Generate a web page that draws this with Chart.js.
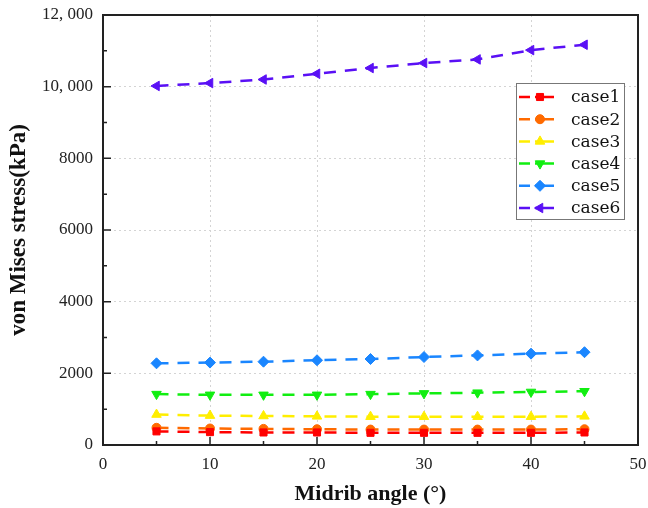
<!DOCTYPE html>
<html>
<head>
<meta charset="utf-8">
<script src="https://cdn.jsdelivr.net/npm/chart.js@4"></script>
<style>
  html, body { margin: 0; padding: 0; background: #fff; }
  #wrap { width: 648px; height: 508px; }
</style>
</head>
<body>
<div id="wrap"><canvas id="myChart" width="648" height="508"></canvas></div>
<script>
// data
const angles = [5, 10, 15, 20, 25, 30, 35, 40, 45];
const case1 = [380, 360, 350, 350, 340, 340, 340, 340, 350];
const case2 = [480, 460, 450, 440, 430, 430, 430, 430, 440];
const case3 = [850, 820, 810, 800, 790, 790, 790, 790, 800];
const case4 = [1420, 1400, 1400, 1400, 1420, 1440, 1460, 1480, 1500];
const case5 = [2280, 2300, 2325, 2365, 2400, 2455, 2500, 2550, 2590];
const case6 = [10020, 10100, 10200, 10360, 10520, 10660, 10760, 11020, 11170];
const seriesNames = ['case1', 'case2', 'case3', 'case4', 'case5', 'case6'];
const yTicks = [0, 2000, 4000, 6000, 8000, 10000, 12000];
const xTicks = [0, 10, 20, 30, 40, 50];

const colors = ['#ff0000', '#ff6a00', '#ffee00', '#11ee11', '#1a86ff', '#5a10f5'];
const styles = ['rect', 'circle', 'triangle', 'triangle', 'rectRot', 'triangle'];
const rotations = [0, 0, 0, 180, 0, 270];
const radii = [5, 4.5, 5.5, 5.5, 5.5, 5.5];
const allSeries = [case1, case2, case3, case4, case5, case6];
const serif = "'Liberation Serif', 'DejaVu Serif', serif";
const dash = [12, 9];

function fmtY(v) {
    if (v >= 10000) {
        const s = String(v);
        return s.slice(0, s.length - 3) + ', ' + s.slice(-3);
    }
    return String(v);
}

const datasets = allSeries.map((vals, i) => ({
    label: seriesNames[i],
    data: angles.map((a, j) => ({ x: a, y: vals[j] })),
    borderColor: colors[i],
    backgroundColor: colors[i],
    borderWidth: 2.5,
    borderDash: dash,
    pointStyle: styles[i],
    rotation: rotations[i],
    pointRadius: radii[i],
    pointBorderWidth: 1,
    tension: 0
}));

// frame, inward ticks and in-plot legend
const framePlugin = {
    id: 'frame',
    afterDraw(chart) {
        const ctx = chart.ctx;
        const a = chart.chartArea;
        const xs = chart.scales.x, ys = chart.scales.y;
        ctx.save();
        ctx.strokeStyle = '#222';
        ctx.lineWidth = 2;
        ctx.strokeRect(a.left, a.top, a.right - a.left, a.bottom - a.top);
        ctx.lineWidth = 1.5;
        ctx.beginPath();
        for (let v = 0; v <= 50; v += 5) {
            const px = xs.getPixelForValue(v);
            const len = v % 10 === 0 ? 8 : 4;
            ctx.moveTo(px, a.bottom);
            ctx.lineTo(px, a.bottom - len);
        }
        for (let v = 0; v <= 12000; v += 1000) {
            const py = ys.getPixelForValue(v);
            const len = v % 2000 === 0 ? 8 : 4;
            ctx.moveTo(a.left, py);
            ctx.lineTo(a.left + len, py);
        }
        ctx.stroke();

        // legend
        const bx = 516, by = 83, bw = 108, bh = 136;
        ctx.fillStyle = '#fff';
        ctx.fillRect(bx, by, bw, bh);
        ctx.strokeStyle = '#777';
        ctx.lineWidth = 1;
        ctx.strokeRect(bx + 0.5, by + 0.5, bw, bh);
        ctx.font = "17px 'DejaVu Serif', serif";
        ctx.textBaseline = 'middle';
        ctx.textAlign = 'left';
        seriesNames.forEach((name, i) => {
            const y = by + 14 + i * 22.2;
            ctx.strokeStyle = colors[i];
            ctx.lineWidth = 2.5;
            ctx.beginPath();
            ctx.moveTo(bx + 3, y);
            ctx.lineTo(bx + 14, y);
            ctx.moveTo(bx + 19, y);
            ctx.lineTo(bx + 38, y);
            ctx.stroke();
            ctx.fillStyle = colors[i];
            ctx.lineWidth = 1;
            Chart.helpers.drawPoint(ctx, {
                pointStyle: styles[i], rotation: rotations[i], radius: radii[i], borderWidth: 1
            }, bx + 24, y);
            ctx.fillStyle = '#111';
            ctx.fillText(name, bx + 55, y + 1);
        });
        ctx.restore();
    }
};

const ctx = document.getElementById('myChart').getContext('2d');
const myChart = new Chart(ctx, {
    type: 'line',
    data: { datasets: datasets },
    options: {
        responsive: false,
        animation: false,
        layout: { padding: { top: 15, right: 10, left: 0, bottom: 0 } },
        plugins: {
            legend: { display: false },
            tooltip: { enabled: false }
        },
        scales: {
            x: {
                type: 'linear',
                min: 0,
                max: 50,
                afterBuildTicks(scale) { scale.ticks = xTicks.map(v => ({ value: v })); },
                afterFit(scale) {
                    scale.height = 63;
                    scale.paddingLeft = 0;
                    scale.paddingRight = 0;
                },
                grid: {
                    color: ctx => (ctx.tick && (ctx.tick.value === 0 || ctx.tick.value === 50)) ? 'rgba(0,0,0,0)' : '#d4d4d4',
                    lineWidth: 1,
                    drawTicks: false
                },
                border: { display: true, color: '#222', width: 2, dash: [2, 3] },
                ticks: {
                    color: '#222',
                    padding: 9,
                    font: { family: serif, size: 17 },
                    maxRotation: 0
                },
                title: {
                    display: true,
                    text: 'Midrib angle (°)',
                    color: '#111',
                    font: { family: serif, size: 22, weight: 'bold' },
                    padding: { top: 0, bottom: 0 }
                }
            },
            y: {
                type: 'linear',
                min: 0,
                max: 12000,
                afterBuildTicks(scale) { scale.ticks = yTicks.map(v => ({ value: v })); },
                afterFit(scale) {
                    scale.width = 103;
                    scale.paddingTop = 0;
                    scale.paddingBottom = 0;
                },
                grid: {
                    color: ctx => (ctx.tick && (ctx.tick.value === 0 || ctx.tick.value === 12000)) ? 'rgba(0,0,0,0)' : '#d4d4d4',
                    lineWidth: 1,
                    drawTicks: false
                },
                border: { display: true, color: '#222', width: 2, dash: [2, 3] },
                ticks: {
                    color: '#222',
                    padding: 10,
                    font: { family: serif, size: 17 },
                    callback: v => fmtY(v)
                },
                title: {
                    display: true,
                    text: 'von Mises stress(kPa)',
                    color: '#111',
                    font: { family: serif, size: 23, weight: 'bold' },
                    padding: { top: 5, bottom: 0 }
                }
            }
        }
    },
    plugins: [framePlugin]
});
</script>
</body>
</html>
